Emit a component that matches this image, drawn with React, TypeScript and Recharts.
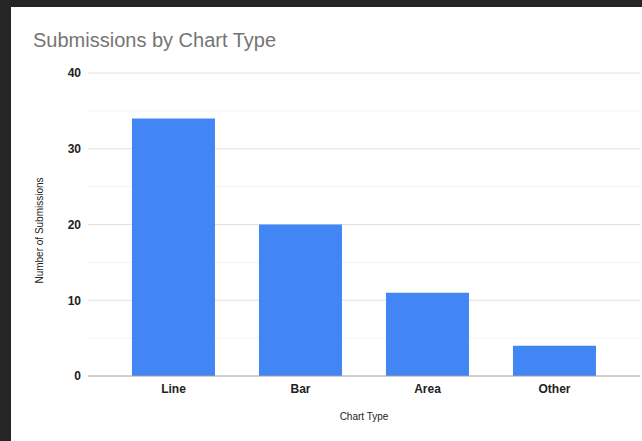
import React from 'react';
import { BarChart, Bar, XAxis, YAxis, CartesianGrid, Label } from 'recharts';

const chartTypes = ['Line', 'Bar', 'Area', 'Other'];
const submissions = [34, 20, 11, 4];
const yTicks = [0, 10, 20, 30, 40];
const yMinorTicks = [5, 15, 25, 35];

const data = chartTypes.map((type, i) => ({ type, count: submissions[i] }));

const FONT = '"Liberation Sans", Arial, sans-serif';

const YTitle = (props: any) => {
    const { viewBox } = props;
    const x = viewBox.x + 43;
    const y = viewBox.y + viewBox.height / 2 + 6;
    return (
        <text
            x={x}
            y={y}
            transform={`rotate(-90 ${x} ${y})`}
            textAnchor="middle"
            fontSize={10}
            fontFamily={FONT}
            fill="#222"
        >
            Number of Submissions
        </text>
    );
};

export default function App() {
    return (
        <div style={{ position: 'fixed', left: 0, top: 0, width: 642, height: 441, overflow: 'hidden', background: '#fff' }}>
            {/* dark frame round the chart card */}
            <div style={{ position: 'absolute', left: 0, top: 0, width: 642, height: 7, background: '#262626' }} />
            <div style={{ position: 'absolute', left: 0, top: 0, width: 11, height: 441, background: '#262626' }} />
            <div
                style={{
                    position: 'absolute',
                    left: 33,
                    top: 28,
                    fontFamily: FONT,
                    fontSize: 20,
                    color: '#757575',
                    lineHeight: '24px',
                    whiteSpace: 'nowrap',
                }}
            >
                Submissions by Chart Type
            </div>
            <div style={{ position: 'absolute', left: 0, top: 0 }}>
                <BarChart
                    width={642}
                    height={441}
                    data={data}
                    margin={{ top: 73, right: 2, left: 0, bottom: 0 }}
                    barCategoryGap="17.3%"
                >
                    <CartesianGrid horizontalValues={yMinorTicks} vertical={false} stroke="#f2f2f2" />
                    <CartesianGrid horizontalValues={yTicks.slice(1)} vertical={false} stroke="#e0e0e0" />
                    <XAxis
                        dataKey="type"
                        height={65}
                        padding={{ left: 22, right: 22 }}
                        tickLine={false}
                        tickSize={0}
                        tickMargin={8}
                        axisLine={{ stroke: '#9e9e9e' }}
                        tick={{ fill: '#222', fontSize: 12, fontWeight: 700, fontFamily: FONT }}
                    >
                        <Label
                            value="Chart Type"
                            position="insideBottom"
                            offset={21}
                            fontSize={10}
                            fontFamily={FONT}
                            fill="#222"
                        />
                    </XAxis>
                    <YAxis
                        width={88}
                        domain={[0, 40]}
                        ticks={yTicks}
                        axisLine={false}
                        tickLine={false}
                        tickSize={0}
                        tickMargin={7}
                        tick={{ fill: '#222', fontSize: 12, fontWeight: 700, fontFamily: FONT }}
                    >
                        <Label content={YTitle} />
                    </YAxis>
                    <Bar dataKey="count" fill="#4285f4" isAnimationActive={false} />
                </BarChart>
            </div>
        </div>
    );
}
